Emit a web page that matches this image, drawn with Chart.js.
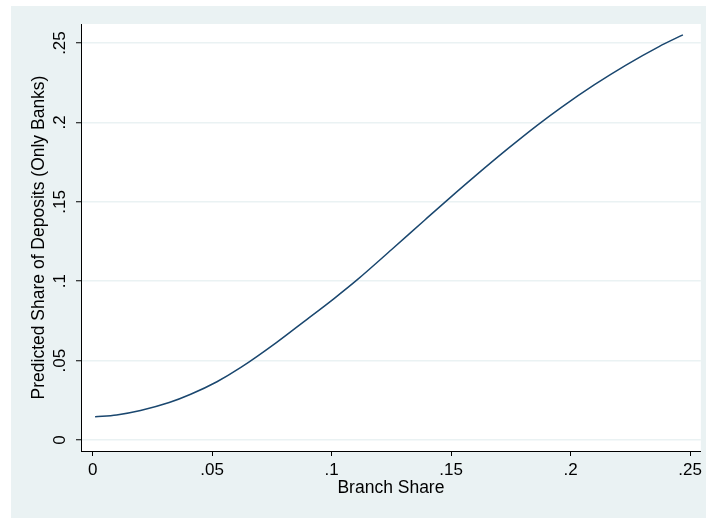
<!DOCTYPE html>
<html lang="en">
<head>
<meta charset="utf-8">
<title>Predicted Share of Deposits</title>
<script src="https://cdn.jsdelivr.net/npm/chart.js@4/dist/chart.umd.min.js"></script>
<style>
  html, body { margin: 0; padding: 0; background: #EAF2F3; overflow: hidden; }
  #wrap { width: 706px; height: 518px; }
  #graph { display: block; }
</style>
</head>
<body>
<div id="wrap"><canvas id="graph" width="706" height="518"></canvas></div>
<script>
// Data
var branchShare    = [0.001, 0.010, 0.020, 0.032, 0.041, 0.052, 0.062, 0.077, 0.088, 0.101, 0.111, 0.125, 0.139, 0.149, 0.160, 0.174, 0.186, 0.196, 0.210, 0.223, 0.237, 0.247];
var predictedShare = [0.0147, 0.0158, 0.0186, 0.0236, 0.0288, 0.0367, 0.0457, 0.0615, 0.0741, 0.0891, 0.1013, 0.1198, 0.1386, 0.1519, 0.1662, 0.1838, 0.1982, 0.2094, 0.2238, 0.2360, 0.2478, 0.2552];
var xTicks = [0, 0.05, 0.1, 0.15, 0.2, 0.25];
var yTicks = [0, 0.05, 0.1, 0.15, 0.2, 0.25];

var BG = "#EAF2F3";
var LINE = "#1a476f";
var FONT = "'Liberation Sans', Arial, Helvetica, sans-serif";

function fmt(v) {
    if (v === 0) return "0";
    return String(+v.toFixed(2)).replace(/^0\./, ".");
}

var points = branchShare.map(function(x, i) { return {x: x, y: predictedShare[i]}; });

// paints the outer and inner backgrounds, then y tick labels (rotated like Stata)
var stataLook = {
    id: "stataLook",
    beforeDraw: function(chart) {
        var ctx = chart.ctx, a = chart.chartArea;
        var w = ctx.canvas.width, h = ctx.canvas.height;
        ctx.save();
        ctx.fillStyle = "#fff";
        ctx.fillRect(0, 0, w, h);
        ctx.fillStyle = BG;
        ctx.fillRect(11, 6, w - 11, h - 6);
        ctx.fillStyle = "#fff";
        ctx.fillRect(a.left, a.top, a.right - a.left, a.bottom - a.top);
        ctx.restore();
    },
    afterDraw: function(chart) {
        var ctx = chart.ctx, ys = chart.scales.y;
        ctx.save();
        ctx.fillStyle = "#000";
        ctx.font = "17px " + FONT;
        ctx.textAlign = "center";
        ctx.textBaseline = "alphabetic";
        yTicks.forEach(function(v) {
            var py = ys.getPixelForValue(v);
            ctx.save();
            ctx.translate(65, py);
            ctx.rotate(-Math.PI / 2);
            ctx.fillText(fmt(v), 0, 0);
            ctx.restore();
        });
        ctx.restore();
    }
};

var chart = new Chart(document.getElementById("graph").getContext("2d"), {
    type: "scatter",
    data: {
        datasets: [{
            data: points,
            showLine: true,
            borderColor: LINE,
            borderWidth: 1.5,
            pointRadius: 0,
            cubicInterpolationMode: "monotone",
            fill: false
        }]
    },
    options: {
        responsive: false,
        animation: false,
        layout: { padding: { left: 11, top: 24, right: 5, bottom: 0 } },
        plugins: { legend: { display: false }, tooltip: { enabled: false } },
        scales: {
            x: {
                type: "linear",
                min: -0.0049,
                max: 0.2545,
                afterBuildTicks: function(s) { s.ticks = xTicks.map(function(v) { return {value: v}; }); },
                afterFit: function(s) { s.height = 67; },
                ticks: {
                    color: "#000",
                    font: { family: FONT, size: 17 },
                    padding: 4,
                    maxRotation: 0,
                    callback: function(v) { return fmt(v); }
                },
                grid: { drawOnChartArea: false, tickLength: 5, tickColor: "#000", tickWidth: 1 },
                border: { color: "#000", width: 1 },
                title: {
                    display: true,
                    text: "Branch Share",
                    color: "#000",
                    font: { family: FONT, size: 17.5 },
                    padding: { top: 0, bottom: 19 }
                }
            },
            y: {
                type: "linear",
                min: -0.0069,
                max: 0.262,
                afterBuildTicks: function(s) { s.ticks = yTicks.map(function(v) { return {value: v}; }); },
                afterFit: function(s) { s.width = 70; },
                ticks: { display: false },
                grid: { color: BG, lineWidth: 1.5, tickLength: 5, tickColor: "#000", tickWidth: 1 },
                border: { color: "#000", width: 1 },
                title: {
                    display: true,
                    text: "Predicted Share of Deposits (Only Banks)",
                    color: "#000",
                    font: { family: FONT, size: 17.5 },
                    padding: { top: 17.5, bottom: 0 }
                }
            }
        }
    },
    plugins: [stataLook]
});
</script>
</body>
</html>
